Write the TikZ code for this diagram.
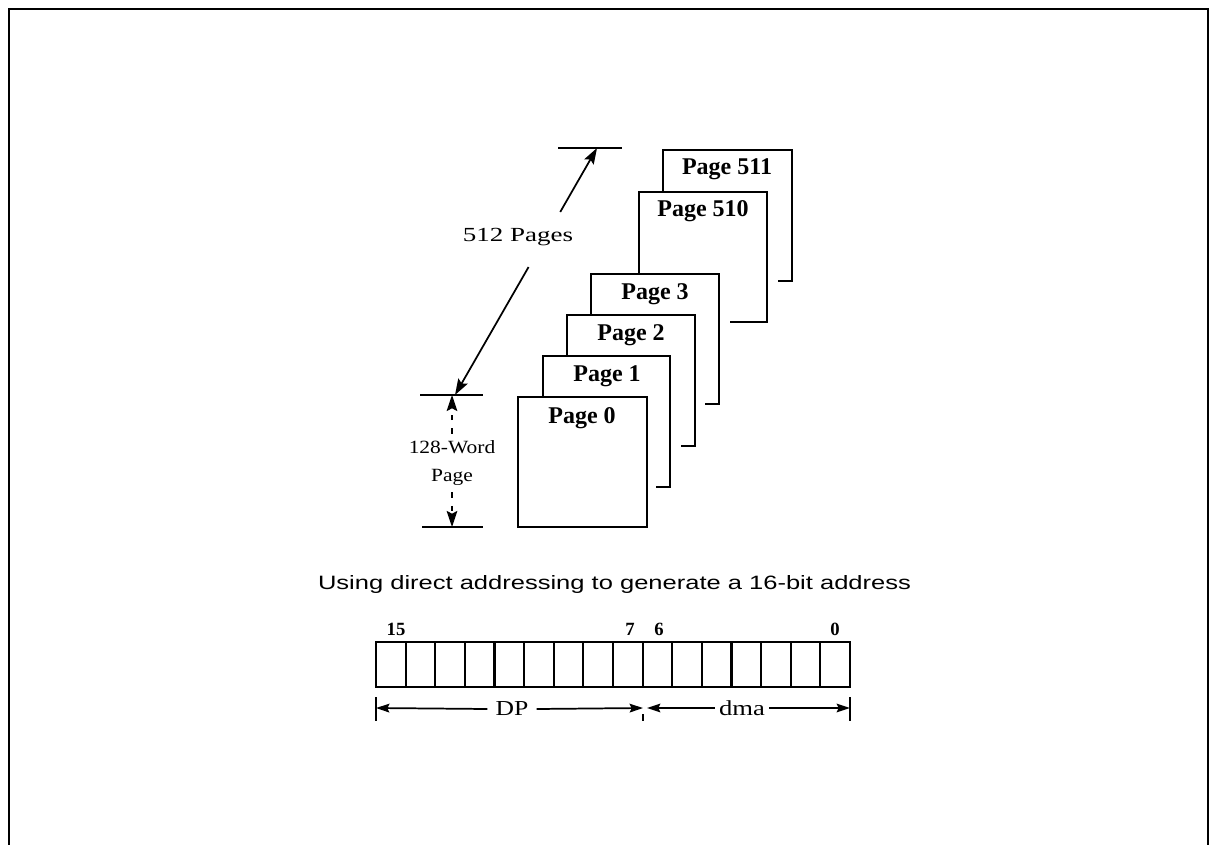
\documentclass[tikz,border=0pt]{standalone}
\usepackage{graphicx}
\usepackage{fontspec}
\setmainfont{Liberation Serif}
\newfontfamily\capfont{Liberation Sans}
\usetikzlibrary{arrows.meta,calc}
\begin{document}
\begin{tikzpicture}[x=0.75pt,y=-0.75pt,
  frame/.style={line width=2.2pt},
  pg/.style={line width=1.6pt, line join=miter},
  pglbl/.style={font=\fontsize{18}{20}\selectfont\bfseries, inner sep=0pt},
  tick/.style={line width=1.3pt},
  arr/.style={line width=1.3pt, -{Stealth[length=12pt,width=8pt,inset=2pt]}},
  darr/.style={line width=1.2pt, dash pattern=on 4pt off 6pt, -{Stealth[length=12pt,width=8pt,inset=2pt]}},
  cell/.style={draw, line width=1.6pt, minimum width=22.22pt, minimum height=33.75pt, inner sep=0pt, outer sep=0pt},
  bitlbl/.style={font=\fontsize{14}{16}\selectfont\bfseries, inner sep=0pt},
  fldlbl/.style={font=\fontsize{16}{18}\selectfont, inner xsep=6pt, inner ysep=1pt},
  farr/.style={line width=1.3pt, -{Stealth[length=10pt,width=6.5pt,inset=1.5pt]}},
]
\useasboundingbox (0,0) rectangle (1217,845);
% frame
\draw[frame] (9,846) -- (9,9) -- (1208,9) -- (1208,846);

% pages (back to front)
\draw[pg] (663,192) -- (663,150) -- (792,150) -- (792,281) -- (778,281);
\draw[pg] (639,274) -- (639,192) -- (767,192) -- (767,322) -- (730,322);
\draw[pg] (591,315) -- (591,274) -- (719,274) -- (719,404) -- (705,404);
\draw[pg] (567,356) -- (567,315) -- (695,315) -- (695,446) -- (681,446);
\draw[pg] (543,397) -- (543,356) -- (670,356) -- (670,487) -- (656,487);
\draw[pg] (518,397) rectangle (647,527);

\node[pglbl] (p511) at (727,169) {Page 511};
\node[pglbl] (p510) at (703,211) {Page 510};
\node[pglbl] (p3) at (655,294) {Page 3};
\node[pglbl] (p2) at (631,335) {Page 2};
\node[pglbl] (p1) at (607,376) {Page 1};
\node[pglbl] (p0) at (582,418) {Page 0};

% 512 pages dimension
\coordinate (ta) at (597,148);
\coordinate (ba) at (455,395);
\coordinate (tt1) at (558,148);
\coordinate (tt2) at (622,148);
\coordinate (bt1) at (420,395);
\coordinate (bt2) at (483,395);
\coordinate (lt1) at (422,527);
\coordinate (lt2) at (483,527);
\coordinate (wb) at (452,527);
\coordinate (wt) at (452,395);
\draw[tick] (tt1) -- (tt2);
\draw[tick] (bt1) -- (bt2);
\draw[tick] (lt1) -- (lt2);
\node[font=\fontsize{15}{17}\selectfont, inner sep=0pt] (pages) at (518,237) {\scalebox{1.35}[1]{512 Pages}};
\draw[arr] ($(ba)!0.741!(ta)$) -- (ta);
\draw[arr] ($(ba)!0.518!(ta)$) -- (ba);

% 128-word page
\node[align=center, font=\fontsize{14}{21}\selectfont, inner xsep=0pt, inner ysep=5pt] (wl) at (452,463)
  {\scalebox{1.15}[1]{128-Word}\\\scalebox{1.15}[1]{Page}};
\draw[darr] (wl.north) -- (wt);
\draw[darr] (wl.south) -- (wb);

% caption
\node[inner sep=0pt] (cap) at (614.5,584)
  {\capfont\fontsize{14.5}{16}\selectfont\scalebox{1.32}[1]{Using direct addressing to generate a 16-bit address}};

% register
\foreach \i in {0,...,15}
  \node[cell] (b\i) at ({376+(15-\i+0.5)*29.625},664.5) {};
\node[bitlbl] (l15) at (396,629) {15};
\node[bitlbl] (l7) at (630,629) {7};
\node[bitlbl] (l6) at (659,629) {6};
\node[bitlbl] (l0) at (835,629) {0};

% field arrows
\coordinate (fl) at (376,708);
\coordinate (fr) at (850,708);
\coordinate (m1) at (643,708);
\coordinate (m2) at (647,708);
\coordinate (flt) at (376,697);
\coordinate (flb) at (376,721);
\coordinate (frt) at (850,697);
\coordinate (frb) at (850,721);
\coordinate (mt) at (643,714);
\coordinate (mb) at (643,721);
\draw[tick] (flt) -- (flb);
\draw[tick] (frt) -- (frb);
\draw[line width=0.8pt] (mt) -- (mb);
\node[fldlbl] (dp) at (512,709) {\scalebox{1.2}[1]{DP}};
\node[fldlbl, inner xsep=3pt] (dma) at (742,708) {\scalebox{1.25}[1]{dma}};
\draw[farr] (dp.west) -- (fl);
\draw[farr] (dp.east) -- (m1);
\draw[farr] (dma.west) -- (m2);
\draw[farr] (dma.east) -- (fr);
\end{tikzpicture}
\end{document}
